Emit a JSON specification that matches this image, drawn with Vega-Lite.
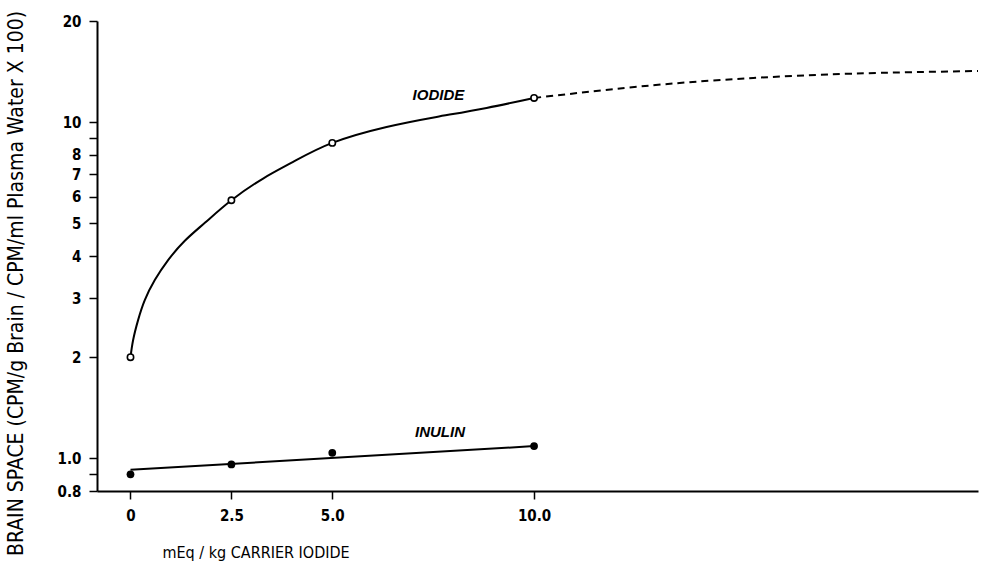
{
  "$schema": "https://vega.github.io/schema/vega-lite/v6.json",
  "width": 881,
  "height": 470,
  "autosize": {"type": "none"},
  "padding": {"left": 97, "top": 21, "right": 6, "bottom": 73},
  "background": "white",
  "config": {
    "view": {"stroke": null},
    "font": "DejaVu Sans Condensed, DejaVu Sans, sans-serif",
    "axis": {
      "domainColor": "black",
      "domainWidth": 2,
      "tickColor": "black",
      "tickWidth": 1.5,
      "tickSize": 8,
      "labelColor": "black",
      "labelFontSize": 15,
      "labelFontWeight": "bold",
      "labelFont": "DejaVu Sans Condensed, DejaVu Sans, sans-serif",
      "titleFont": "DejaVu Sans Condensed, DejaVu Sans, sans-serif",
      "titleColor": "black",
      "titleFontWeight": "normal",
      "grid": false
    }
  },
  "datasets": {
    "iodide_fit": [
      {"x": 0.0, "y": 2.0},
      {"x": 0.064, "y": 2.247},
      {"x": 0.188, "y": 2.578},
      {"x": 0.354, "y": 2.956},
      {"x": 0.602, "y": 3.391},
      {"x": 0.932, "y": 3.888},
      {"x": 1.346, "y": 4.44},
      {"x": 1.85, "y": 5.03},
      {"x": 2.5, "y": 5.86},
      {"x": 3.286, "y": 6.8},
      {"x": 4.03, "y": 7.62},
      {"x": 5.0, "y": 8.68},
      {"x": 6.345, "y": 9.68},
      {"x": 7.584, "y": 10.37},
      {"x": 8.823, "y": 11.03},
      {"x": 10.0, "y": 11.81}
    ],
    "iodide_ext": [
      {"x": 10.0, "y": 11.81},
      {"x": 12.95, "y": 12.88},
      {"x": 15.43, "y": 13.54},
      {"x": 17.9, "y": 13.95},
      {"x": 21.0, "y": 14.2}
    ],
    "inulin_fit": [
      {"x": 0.0, "y": 0.925},
      {"x": 10.0, "y": 1.088}
    ],
    "iodide_pts": [
      {"x": 0, "y": 2.0},
      {"x": 2.5, "y": 5.86},
      {"x": 5, "y": 8.68},
      {"x": 10, "y": 11.81}
    ],
    "inulin_pts": [
      {"x": 0, "y": 0.897},
      {"x": 2.5, "y": 0.96},
      {"x": 5, "y": 1.039},
      {"x": 10, "y": 1.088}
    ],
    "labels": [
      {"x": 7.63, "y": 12.02, "label": "IODIDE"},
      {"x": 7.67, "y": 1.2, "label": "INULIN"}
    ]
  },
  "encoding": {
    "x": {
      "field": "x",
      "type": "quantitative",
      "scale": {"domain": [-0.83, 21], "nice": false, "zero": false},
      "axis": {
        "values": [0, 2.5, 5, 10],
        "labelExpr": "datum.value == 0 ? '0' : format(datum.value, '.1f')",
        "labelPadding": 9,
        "title": "mEq / kg CARRIER IODIDE",
        "titleFontSize": 16,
        "titleX": 65,
        "titleY": 61,
        "titleAlign": "left",
        "titleBaseline": "middle"
      }
    },
    "y": {
      "field": "y",
      "type": "quantitative",
      "scale": {"type": "log", "domain": [0.8, 20], "nice": false, "zero": false},
      "axis": {
        "values": [0.8, 0.9, 1, 2, 3, 4, 5, 6, 7, 8, 9, 10, 20],
        "labelExpr": "datum.value == 0.9 || datum.value == 9 ? '' : datum.value == 0.8 ? '0.8' : datum.value == 1 ? '1.0' : format(datum.value, 'd')",
        "labelPadding": 8,
        "title": "BRAIN SPACE (CPM/g Brain / CPM/ml Plasma Water X 100)",
        "titleFontSize": 21,
        "titleAngle": 270,
        "titleX": -81,
        "titleY": 262,
        "titleAlign": "center",
        "titleBaseline": "middle"
      }
    }
  },
  "layer": [
    {
      "data": {"name": "iodide_fit"},
      "mark": {"type": "line", "interpolate": "natural", "color": "black", "strokeWidth": 2}
    },
    {
      "data": {"name": "iodide_ext"},
      "mark": {"type": "line", "interpolate": "natural", "color": "black", "strokeWidth": 2, "strokeDash": [7, 5]}
    },
    {
      "data": {"name": "inulin_fit"},
      "mark": {"type": "line", "color": "black", "strokeWidth": 2}
    },
    {
      "data": {"name": "iodide_pts"},
      "mark": {"type": "point", "shape": "circle", "filled": false, "fill": "white", "fillOpacity": 1, "stroke": "black", "strokeWidth": 1.6, "size": 40, "opacity": 1}
    },
    {
      "data": {"name": "inulin_pts"},
      "mark": {"type": "circle", "color": "black", "size": 60, "opacity": 1}
    },
    {
      "data": {"name": "labels"},
      "mark": {"type": "text", "font": "Liberation Sans, Arial, sans-serif", "fontStyle": "italic", "fontWeight": "bold", "fontSize": 15, "color": "black", "align": "center", "baseline": "middle"},
      "encoding": {"text": {"field": "label"}}
    }
  ]
}
